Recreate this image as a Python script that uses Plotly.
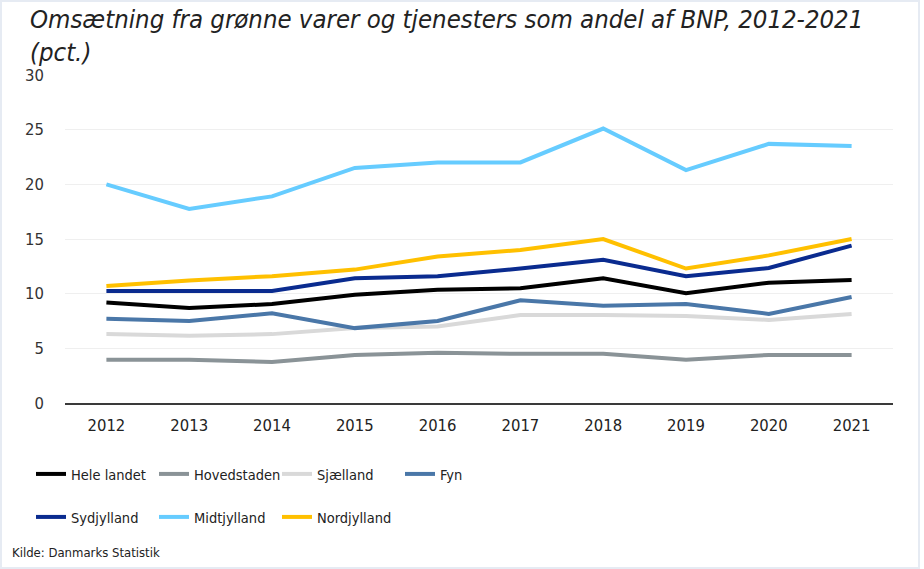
import plotly.graph_objects as go

years = ["2012", "2013", "2014", "2015", "2016", "2017", "2018", "2019", "2020", "2021"]

hele_landet = [9.2, 8.7, 9.05, 9.9, 10.35, 10.5, 11.4, 10.05, 11.0, 11.25]
hovedstaden = [3.95, 3.95, 3.75, 4.4, 4.6, 4.5, 4.5, 3.95, 4.4, 4.4]
sjaelland = [6.3, 6.15, 6.3, 6.85, 7.0, 8.05, 8.05, 7.95, 7.6, 8.15]
fyn = [7.7, 7.5, 8.2, 6.85, 7.5, 9.4, 8.9, 9.05, 8.15, 9.7]
sydjylland = [10.25, 10.25, 10.25, 11.4, 11.6, 12.3, 13.1, 11.6, 12.35, 14.4]
midtjylland = [20.0, 17.75, 18.9, 21.5, 22.0, 22.0, 25.1, 21.3, 23.7, 23.5]
nordjylland = [10.7, 11.2, 11.6, 12.2, 13.4, 14.0, 15.0, 12.3, 13.5, 15.0]

series = [
    ("Hele landet", hele_landet, "#000000", "legend"),
    ("Hovedstaden", hovedstaden, "#8a9397", "legend"),
    ("Sjælland", sjaelland, "#d9d9d9", "legend"),
    ("Fyn", fyn, "#4a77a8", "legend"),
    ("Sydjylland", sydjylland, "#0a2b8f", "legend2"),
    ("Midtjylland", midtjylland, "#66ccff", "legend2"),
    ("Nordjylland", nordjylland, "#ffc000", "legend2"),
]

FONT = "DejaVu Sans Condensed, Roboto, sans-serif"

fig = go.Figure()
for name, vals, color, lg in series:
    fig.add_trace(go.Scatter(
        x=years, y=vals, name=name, mode="lines",
        line=dict(color=color, width=4),
        legend=lg,
    ))

legend_common = dict(
    orientation="h",
    xref="container", yref="container",
    xanchor="left", yanchor="middle",
    entrywidth=78, entrywidthmode="pixels",
    font=dict(family=FONT, size=14.5, color="#222222"),
    itemwidth=30,
    bgcolor="rgba(0,0,0,0)",
    traceorder="normal",
)

H = 569
fig.update_layout(
    width=924, height=H,
    paper_bgcolor="white", plot_bgcolor="white",
    margin=dict(l=65, r=31, t=75, b=166, autoexpand=False),
    font=dict(family=FONT, size=16, color="#333333"),
    legend=dict(x=31 / 924, y=1 - 474 / H, **legend_common),
    legend2=dict(x=31 / 924, y=1 - 517 / H, **legend_common),
    xaxis=dict(
        type="category",
        range=[-0.5, 9.5],
        showgrid=False,
        showline=True, linecolor="#3a3a3a", linewidth=1.5,
        ticks="",
        ticklabelstandoff=6,
        tickfont=dict(family=FONT, size=16.5, color="#222222"),
    ),
    yaxis=dict(
        range=[0, 30],
        tickvals=[0, 5, 10, 15, 20, 25, 30],
        showgrid=True, gridcolor="#efefef", gridwidth=1,
        zeroline=False,
        ticks="",
        ticklabelstandoff=20,
        tickfont=dict(family=FONT, size=16.5, color="#333333"),
    ),
    annotations=[
        dict(
            text="<i>Omsætning fra grønne varer og tjenesters som andel af BNP, 2012-2021<br>(pct.)</i>",
            xref="paper", yref="paper",
            x=(28 - 65) / 828, y=(403 - 2) / 328,
            xanchor="left", yanchor="top", align="left",
            showarrow=False,
            font=dict(family=FONT, size=25.5, color="#222222"),
        ),
        dict(
            text="Kilde: Danmarks Statistik",
            xref="paper", yref="paper",
            x=(10 - 65) / 828, y=(403 - 552) / 328,
            xanchor="left", yanchor="middle",
            showarrow=False,
            font=dict(family=FONT, size=13, color="#222222"),
        ),
    ],
    shapes=[
        dict(type="rect", xref="paper", yref="paper",
             x0=(1 - 65) / 828, x1=(919 - 65) / 828,
             y0=(403 - 568) / 328, y1=(403 - 1) / 328,
             line=dict(color="#e6ebf3", width=2), fillcolor="rgba(0,0,0,0)",
             layer="below"),
    ],
)

fig.write_html("out.html", config={"displayModeBar": False},
               post_script="document.body.style.margin='0';")
